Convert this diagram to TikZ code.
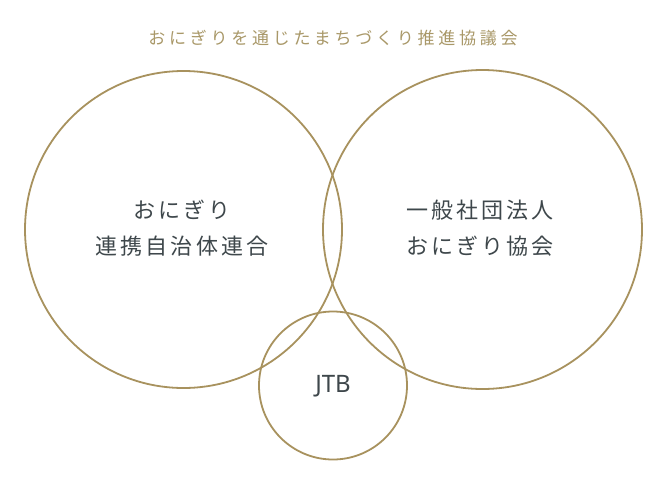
\documentclass[tikz,border=0pt]{standalone}
\usepackage{fontspec}
\newfontfamily\jptitle[LetterSpace=22]{Noto Sans CJK JP}
\newfontfamily\jpmain[LetterSpace=14]{Noto Sans CJK JP}
\newfontfamily\latn{Noto Sans}
\definecolor{gold}{HTML}{A8925E}
\definecolor{goldtext}{HTML}{A99868}
\definecolor{ink}{HTML}{3E474B}
\begin{document}
\begin{tikzpicture}[x=1pt,y=-1pt,
  ring/.style={draw=gold,line width=1.8pt},
  label/.style={text=ink,font=\jpmain\fontsize{22}{36}\selectfont,align=center,inner sep=0pt}]
\useasboundingbox (0,0) rectangle (666,482);
\fill[white] (0,0) rectangle (666,482);
\node[text=goldtext,font=\jptitle\fontsize{17}{18}\selectfont,inner sep=0pt] (title) at (333,38) {おにぎりを通じたまちづくり推進協議会};
\node[ring,circle,minimum size=317pt,inner sep=0pt] (left) at (183.5,229.5) {};
\node[ring,circle,minimum size=319pt,inner sep=0pt] (right) at (482.5,229.5) {};
\node[ring,circle,minimum size=148pt,inner sep=0pt] (jtb) at (333,385.5) {};
\node[label] (lt) at (182,228) {おにぎり\\連携自治体連合};
\node[label] (rt) at (480,228) {一般社団法人\\おにぎり協会};
\node[text=ink,font=\latn\fontsize{24}{28}\selectfont,inner sep=0pt] (jt) at (333,386) {JTB};
\end{tikzpicture}
\end{document}
